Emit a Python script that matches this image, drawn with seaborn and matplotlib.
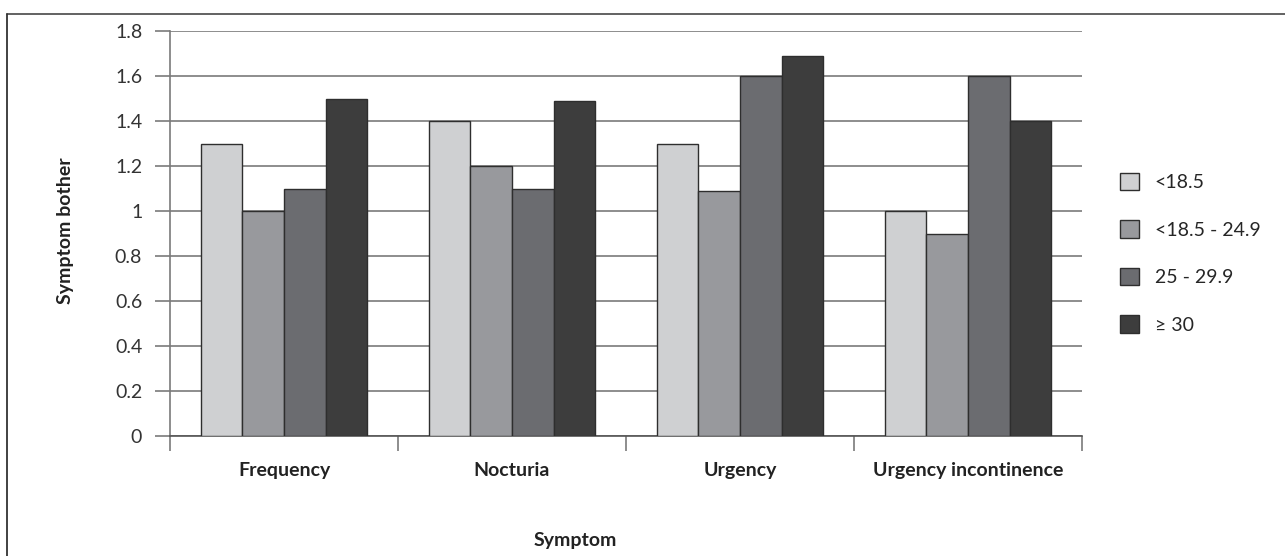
import pandas as pd
import matplotlib.pyplot as plt
import matplotlib.lines as mlines
import seaborn as sns

# Values
symptoms = ["Frequency", "Nocturia", "Urgency", "Urgency incontinence"]
bmi_groups = ["<18.5", "<18.5 - 24.9", "25 - 29.9", "\u2265 30"]
under_18 = [1.3, 1.4, 1.3, 1.0]
normal = [1.0, 1.2, 1.09, 0.9]
overweight = [1.1, 1.1, 1.6, 1.6]
obese = [1.5, 1.49, 1.69, 1.4]
y_ticks = [0, 0.2, 0.4, 0.6, 0.8, 1, 1.2, 1.4, 1.6, 1.8]
y_tick_labels = ["0", "0.2", "0.4", "0.6", "0.8", "1", "1.2", "1.4", "1.6", "1.8"]
colors = ["#cfd0d2", "#98999d", "#6b6c70", "#3d3d3d"]

# long format table for seaborn
rows = []
for group, vals in zip(bmi_groups, [under_18, normal, overweight, obese]):
    for s, v in zip(symptoms, vals):
        rows.append({"Symptom": s, "BMI": group, "Bother": v})
df = pd.DataFrame(rows)

sns.set_style("white")
plt.rcParams["font.family"] = ["Lato", "DejaVu Sans"]
fs = 14

fig = plt.figure(figsize=(12.85, 5.56), dpi=100)
ax = fig.add_axes([0.1323, 0.2158, 0.7097, 0.7284])

sns.barplot(data=df, x="Symptom", y="Bother", hue="BMI", order=symptoms,
            hue_order=bmi_groups, palette=colors, width=0.73,
            edgecolor="#2e2e2e", linewidth=1.0, saturation=1, ax=ax, zorder=3)

ax.set_ylim(0, 1.8)
ax.set_xlim(-0.5, 3.5)
ax.set_yticks(y_ticks)
ax.set_yticklabels(y_tick_labels, fontsize=fs, color="#333333")
ax.yaxis.grid(True, color="#7a7a7a", linewidth=1.2, zorder=0)
ax.set_axisbelow(True)

# category ticks sit between the groups
ax.set_xticks([-0.5, 0.5, 1.5, 2.5, 3.5], minor=False)
ax.set_xticklabels([])
ax.set_xticks([0, 1, 2, 3], minor=True)
ax.set_xticklabels(symptoms, minor=True, fontsize=fs, fontweight="bold",
                   color="#222222")
ax.tick_params(axis="x", which="major", direction="out", length=11,
               width=1.2, color="#7a7a7a", bottom=True)
ax.tick_params(axis="x", which="minor", length=0, pad=19)
ax.tick_params(axis="y", direction="out", length=11, width=1.2,
               color="#7a7a7a", left=True, pad=9)

for side in ["top", "right"]:
    ax.spines[side].set_visible(False)
ax.spines["left"].set_color("#7a7a7a")
ax.spines["left"].set_linewidth(1.2)
ax.spines["bottom"].set_color("#555555")
ax.spines["bottom"].set_linewidth(1.2)

ax.set_xlabel("")
ax.set_ylabel("")
fig.text(0.051, 0.585, "Symptom bother", rotation=90, ha="center", va="center",
         fontsize=fs, fontweight="bold", color="#222222")
fig.text(0.448, 0.027, "Symptom", ha="center", va="center",
         fontsize=fs, fontweight="bold", color="#222222")

ax.legend(loc="upper left", bbox_to_anchor=(1.022, 0.693), frameon=False,
          fontsize=fs, handlelength=1.0, handleheight=1.0,
          labelspacing=1.5, handletextpad=0.8)

# outer frame (top and left edges)
fig.add_artist(mlines.Line2D([0.0055, 1.0], [0.9748, 0.9748],
                             transform=fig.transFigure, color="#555555", lw=1.3))
fig.add_artist(mlines.Line2D([0.0055, 0.0055], [0.0, 0.9748],
                             transform=fig.transFigure, color="#333333", lw=1.3))

fig.savefig("out.png", dpi=100)
